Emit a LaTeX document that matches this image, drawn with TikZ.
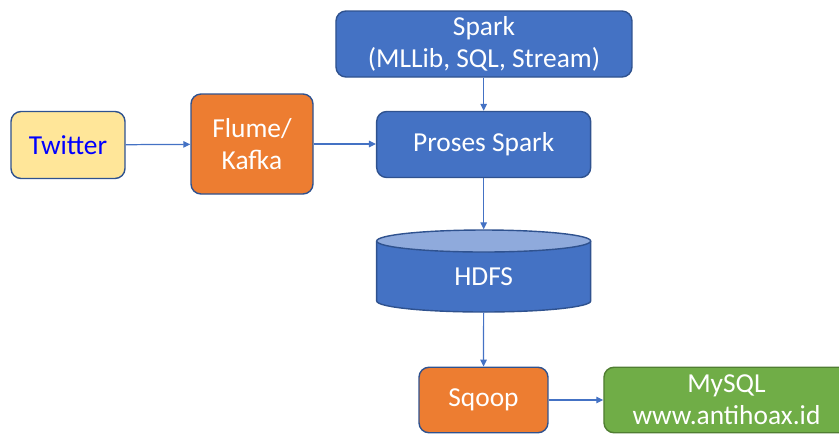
\documentclass[tikz,border=0pt]{standalone}
\usepackage{fontspec}
\setmainfont{Carlito}
\usetikzlibrary{arrows.meta}
\definecolor{bluefill}{HTML}{4472C4}
\definecolor{blueline}{HTML}{2F528F}
\definecolor{bluelight}{HTML}{8FAADC}
\definecolor{orangefill}{HTML}{ED7D31}
\definecolor{yellowfill}{HTML}{FFE699}
\definecolor{greenfill}{HTML}{70AD47}
\definecolor{greenline}{HTML}{507E32}
\tikzset{
  box/.style={rectangle, rounded corners=1mm, draw=blueline, line width=0.4pt, inner sep=0pt, align=center, text=white,
    font=\fontsize{7.8}{9.1}\selectfont},
  source/.style={box, fill=yellowfill, text={rgb,255:red,0;green,0;blue,255}},
  ingest/.style={box, fill=orangefill},
  engine/.style={box, fill=bluefill},
  sink/.style={box, fill=greenfill, draw=greenline},
  store/.style={rectangle, inner sep=0pt, text=white, font=\fontsize{7.8}{9.1}\selectfont},
  flow/.style={bluefill, line width=0.35pt, -{Triangle[length=0.7mm, width=0.65mm]}}
}
\begin{document}
\begin{tikzpicture}
  \useasboundingbox (0,0) rectangle (8.39,-4.35);
  \node[source, minimum width=1.14cm, minimum height=0.67cm] (twitter) at (0.68,-1.45) {Twitter};
  \node[ingest, minimum width=1.22cm, minimum height=1.00cm] (flume) at (2.52,-1.44) {Flume/\\Kafka};
  \node[engine, minimum width=2.96cm, minimum height=0.66cm] (spark) at (4.84,-0.44) {Spark\\(MLLib, SQL, Stream)};
  \node[engine, minimum width=2.14cm, minimum height=0.66cm] (proses) at (4.837,-1.445) {Proses Spark};

  \fill[bluefill] (3.767,-2.41) -- (3.767,-3.01) arc[start angle=180, end angle=360, x radius=1.07cm, y radius=0.11cm]
    -- (5.907,-2.41) -- cycle;
  \draw[blueline, line width=0.4pt] (3.767,-2.41) -- (3.767,-3.01) arc[start angle=180, end angle=360, x radius=1.07cm, y radius=0.11cm]
    -- (5.907,-2.41);
  \draw[blueline, fill=bluelight, line width=0.4pt] (4.837,-2.41) ellipse[x radius=1.07cm, y radius=0.11cm];
  \node[store, minimum width=2.14cm, minimum height=0.82cm] (hdfs) at (4.837,-2.71) {\raisebox{-1.4mm}[0pt][0pt]{HDFS}};

  \node[ingest, minimum width=1.29cm, minimum height=0.655cm] (sqoop) at (4.835,-4.00) {Sqoop};
  \node[sink, minimum width=2.45cm, minimum height=0.655cm] (mysql) at (7.265,-4.00) {MySQL\\www.antihoax.id};

  \draw[flow] (twitter) -- (flume);
  \draw[flow] (flume) -- (proses.west |- flume);
  \draw[flow] (spark.south -| proses) -- (proses);
  \draw[flow] (proses) -- (hdfs);
  \draw[flow] (hdfs) -- (sqoop);
  \draw[flow] (sqoop) -- (mysql);
\end{tikzpicture}
\end{document}
